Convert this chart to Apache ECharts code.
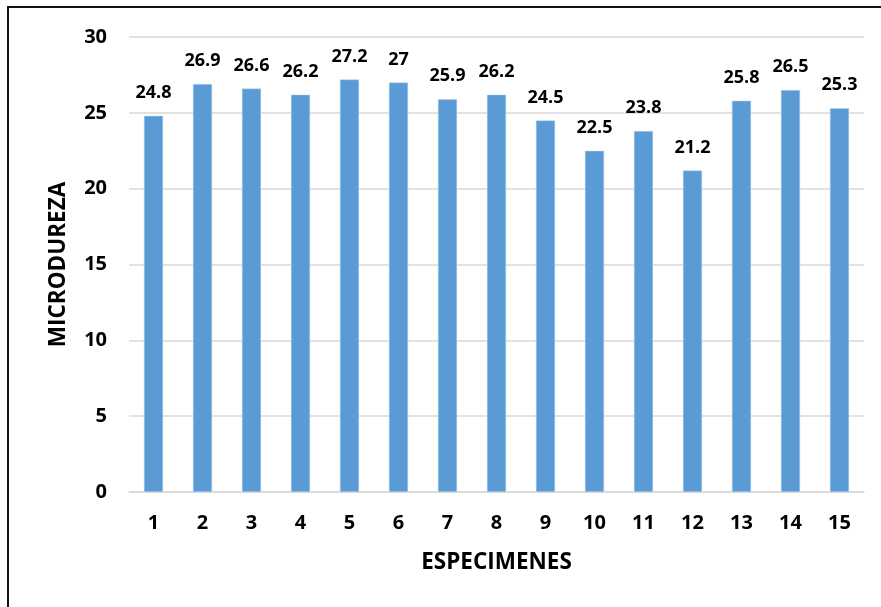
<!DOCTYPE html>
<html>
<head>
<meta charset="utf-8">
<script src="https://cdn.jsdelivr.net/npm/echarts@6/dist/echarts.min.js"></script>
<style>
  html, body { margin: 0; padding: 0; background: #fff; }
  #chart { width: 881px; height: 607px; }
</style>
</head>
<body>
<div id="chart"></div>
<script>
// Microhardness per specimen
const especimenes = ['1','2','3','4','5','6','7','8','9','10','11','12','13','14','15'];
const microdureza = [24.8, 26.9, 26.6, 26.2, 27.2, 27, 25.9, 26.2, 24.5, 22.5, 23.8, 21.2, 25.8, 26.5, 25.3];
const yTicks = [0, 5, 10, 15, 20, 25, 30];

const FONT = '"Open Sans", "Liberation Sans", sans-serif';

const chart = echarts.init(document.getElementById('chart'), null, { renderer: 'canvas' });

chart.setOption({
  animation: false,
  backgroundColor: '#ffffff',
  graphic: [{
    type: 'rect',
    shape: { x: 8, y: 7, width: 900, height: 650 },
    style: { fill: 'none', stroke: '#111111', lineWidth: 2 },
    silent: true
  }],
  grid: { left: 129, right: 17, top: 37, bottom: 115, containLabel: false },
  xAxis: {
    type: 'category',
    data: especimenes,
    name: 'ESPECIMENES',
    nameLocation: 'middle',
    nameGap: 59,
    nameTextStyle: { fontFamily: FONT, fontWeight: 'bold', fontSize: 22.5, color: '#000' },
    axisLine: { show: true, lineStyle: { color: '#d9d9d9', width: 1.5 } },
    axisTick: { show: false },
    axisLabel: { margin: 21, fontFamily: FONT, fontWeight: 'bold', fontSize: 20, color: '#000' }
  },
  yAxis: {
    type: 'value',
    min: yTicks[0],
    max: yTicks[yTicks.length - 1],
    interval: yTicks[1] - yTicks[0],
    name: 'MICRODUREZA',
    nameLocation: 'middle',
    nameGap: 59,
    nameRotate: 90,
    nameTextStyle: { fontFamily: FONT, fontWeight: 'bold', fontSize: 22.5, color: '#000' },
    axisLine: { show: false },
    axisTick: { show: false },
    axisLabel: { margin: 22, fontFamily: FONT, fontWeight: 'bold', fontSize: 20, color: '#000' },
    splitLine: { lineStyle: { color: '#d9d9d9', width: 1.5 } }
  },
  series: [{
    type: 'bar',
    data: microdureza,
    barWidth: '39%',
    itemStyle: { color: '#5b9bd5', borderColor: '#bdd7ee', borderWidth: 0.5 },
    label: {
      show: true,
      position: 'top',
      distance: 14,
      fontFamily: FONT,
      fontWeight: 'bold',
      fontSize: 18,
      color: '#000'
    }
  }]
});
</script>
</body>
</html>
